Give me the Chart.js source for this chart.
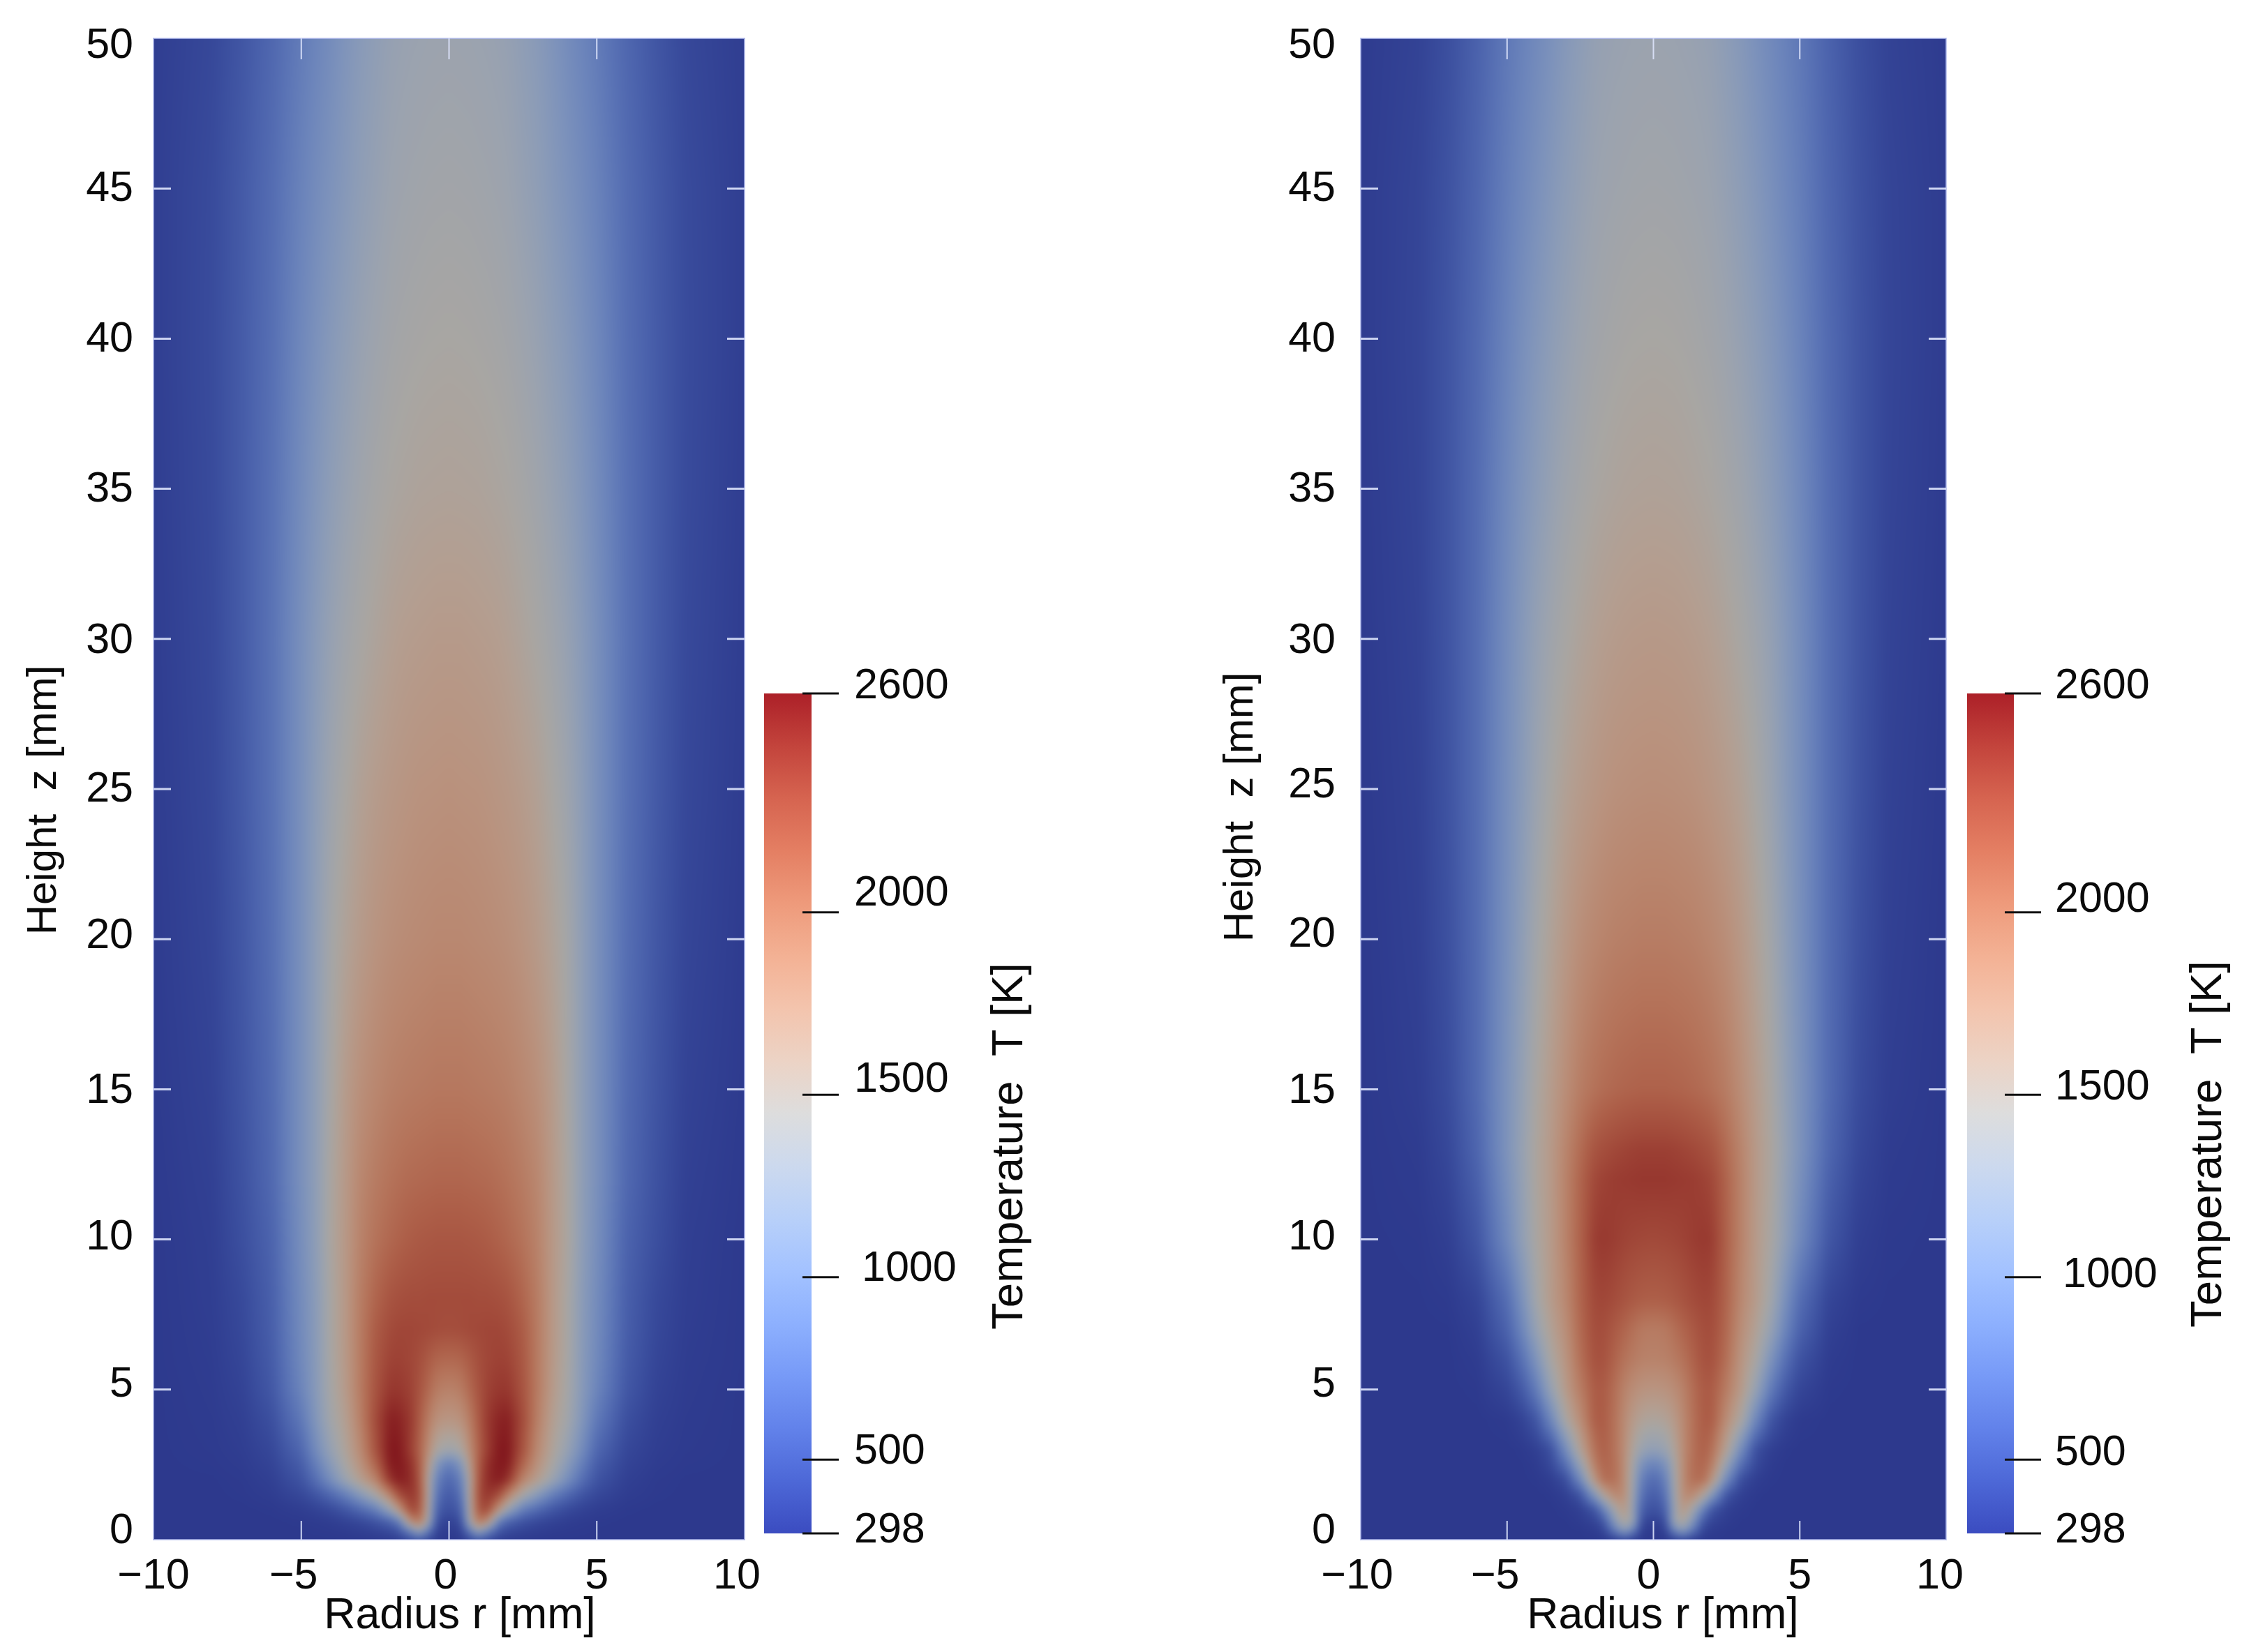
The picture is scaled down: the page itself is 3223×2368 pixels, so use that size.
<!DOCTYPE html>
<html>
<head>
<meta charset="utf-8">
<title>Flame temperature fields</title>
<script src="https://cdn.jsdelivr.net/npm/chart.js@4"></script>
<style>
    html, body { margin: 0; padding: 0; background: #ffffff; }
    canvas { position: absolute; top: 0; }
</style>
</head>
<body>
<canvas id="left-field" width="1110" height="2368" style="left:0px"></canvas>
<canvas id="left-bar" width="420" height="1400" style="left:1085px;top:900px"></canvas>
<canvas id="right-field" width="1130" height="2368" style="left:1700px"></canvas>
<canvas id="right-bar" width="414" height="1400" style="left:2809px;top:900px"></canvas>
<script>
// radius columns in mm, the field is read as mirror symmetric around r = 0
var radiusColumns = [0, 0.4, 0.7, 1, 1.3, 1.7, 2, 2.5, 3, 3.5, 4, 4.5, 5, 6, 7, 8, 10];

var leftHeights = [0, 0.3, 0.6, 1, 1.5, 2, 2.5, 3, 4, 5, 6, 7, 8, 10, 12, 15, 20, 25, 30, 35, 40, 45, 50];
var leftTemps = [
    [298, 310, 400, 520, 430, 340, 320, 310, 305, 300, 298, 298, 298, 298, 298, 298, 298],
    [320, 350, 800, 1300, 900, 500, 420, 370, 340, 320, 310, 305, 300, 298, 298, 298, 298],
    [350, 430, 1350, 2000, 1800, 800, 600, 470, 400, 360, 330, 315, 305, 298, 298, 298, 298],
    [450, 560, 1450, 2250, 2330, 1700, 1250, 820, 640, 500, 410, 360, 330, 305, 298, 298, 298],
    [520, 700, 1500, 2300, 2450, 2300, 1900, 1420, 1120, 830, 640, 490, 400, 325, 305, 298, 298],
    [620, 830, 1500, 2250, 2500, 2580, 2450, 1880, 1600, 1300, 980, 690, 480, 345, 310, 300, 298],
    [800, 1050, 1650, 2200, 2480, 2600, 2580, 2120, 1740, 1440, 1130, 820, 550, 370, 320, 305, 298],
    [1350, 1450, 1800, 2150, 2400, 2600, 2600, 2250, 1830, 1520, 1260, 950, 630, 395, 330, 310, 298],
    [1700, 1750, 1950, 2200, 2420, 2540, 2560, 2300, 1920, 1590, 1380, 1070, 770, 450, 345, 315, 298],
    [1900, 1950, 2100, 2250, 2370, 2430, 2430, 2250, 1960, 1650, 1420, 1120, 880, 510, 365, 320, 298],
    [2100, 2120, 2200, 2290, 2340, 2370, 2360, 2220, 1960, 1670, 1440, 1130, 920, 540, 385, 325, 300],
    [2290, 2300, 2320, 2330, 2340, 2340, 2310, 2190, 1960, 1680, 1450, 1140, 940, 560, 400, 330, 300],
    [2310, 2310, 2310, 2300, 2300, 2280, 2250, 2130, 1950, 1680, 1450, 1150, 950, 570, 410, 335, 300],
    [2230, 2230, 2220, 2210, 2190, 2150, 2110, 2030, 1900, 1680, 1480, 1180, 980, 600, 450, 340, 302],
    [2120, 2120, 2110, 2100, 2090, 2060, 2030, 1960, 1860, 1670, 1470, 1190, 1000, 640, 470, 350, 305],
    [1990, 1990, 1980, 1970, 1960, 1940, 1920, 1860, 1780, 1640, 1440, 1190, 1000, 660, 490, 365, 310],
    [1850, 1850, 1840, 1830, 1820, 1800, 1780, 1730, 1650, 1540, 1400, 1190, 1000, 690, 510, 385, 315],
    [1760, 1750, 1745, 1740, 1725, 1700, 1680, 1630, 1560, 1450, 1330, 1170, 1000, 710, 530, 400, 320],
    [1650, 1650, 1640, 1630, 1620, 1600, 1570, 1510, 1440, 1360, 1260, 1130, 990, 720, 540, 410, 325],
    [1530, 1525, 1520, 1515, 1500, 1480, 1460, 1410, 1350, 1270, 1180, 1070, 950, 710, 545, 420, 330],
    [1450, 1445, 1440, 1430, 1420, 1400, 1380, 1330, 1270, 1190, 1110, 1010, 910, 690, 540, 425, 335],
    [1380, 1375, 1370, 1360, 1350, 1330, 1310, 1250, 1190, 1110, 1030, 950, 860, 670, 530, 420, 335],
    [1320, 1315, 1310, 1300, 1290, 1270, 1250, 1190, 1130, 1050, 960, 880, 800, 630, 500, 400, 330]
];

var rightHeights = [0, 0.3, 0.6, 1, 1.5, 2, 2.5, 3, 4, 5, 6, 7, 8, 10, 12, 13, 15, 20, 25, 30, 35, 40, 45, 50];
var rightTemps = [
    [298, 300, 340, 420, 340, 305, 300, 298, 298, 298, 298, 298, 298, 298, 298, 298, 298],
    [310, 330, 850, 1150, 800, 370, 320, 300, 298, 298, 298, 298, 298, 298, 298, 298, 298],
    [340, 420, 1300, 1500, 1150, 500, 370, 320, 300, 298, 298, 298, 298, 298, 298, 298, 298],
    [450, 560, 1250, 1700, 1420, 850, 480, 340, 310, 298, 298, 298, 298, 298, 298, 298, 298],
    [540, 700, 1300, 1800, 1880, 1550, 1100, 480, 340, 305, 298, 298, 298, 298, 298, 298, 298],
    [650, 820, 1350, 1800, 2050, 2080, 1720, 920, 430, 330, 305, 298, 298, 298, 298, 298, 298],
    [850, 1000, 1400, 1800, 2050, 2130, 1950, 1250, 680, 400, 315, 300, 298, 298, 298, 298, 298],
    [1200, 1280, 1500, 1800, 2020, 2170, 2050, 1550, 950, 450, 340, 305, 298, 298, 298, 298, 298],
    [1500, 1540, 1650, 1830, 2020, 2190, 2190, 1800, 1449, 900, 500, 360, 310, 298, 298, 298, 298],
    [1720, 1740, 1800, 1900, 2050, 2200, 2200, 1950, 1650, 1250, 800, 520, 380, 305, 298, 298, 298],
    [1900, 1910, 1960, 2030, 2130, 2260, 2270, 2050, 1720, 1450, 1040, 700, 470, 320, 298, 298, 298],
    [1960, 1980, 2050, 2130, 2200, 2290, 2300, 2100, 1790, 1560, 1260, 880, 590, 345, 300, 298, 298],
    [2170, 2180, 2210, 2250, 2300, 2340, 2330, 2130, 1850, 1640, 1380, 1000, 680, 380, 310, 300, 298],
    [2320, 2330, 2340, 2360, 2390, 2420, 2400, 2150, 1900, 1650, 1460, 1190, 920, 500, 340, 305, 298],
    [2430, 2430, 2420, 2410, 2400, 2370, 2330, 2130, 1900, 1660, 1490, 1230, 1000, 580, 380, 315, 298],
    [2380, 2380, 2370, 2350, 2330, 2290, 2250, 2080, 1880, 1660, 1490, 1250, 1030, 620, 400, 320, 298],
    [2150, 2150, 2140, 2130, 2110, 2080, 2040, 1950, 1800, 1630, 1460, 1230, 1030, 660, 430, 335, 298],
    [1950, 1950, 1940, 1930, 1920, 1890, 1860, 1790, 1680, 1540, 1380, 1180, 1000, 670, 460, 350, 300],
    [1790, 1785, 1780, 1770, 1760, 1730, 1700, 1640, 1560, 1440, 1300, 1130, 980, 680, 480, 360, 305],
    [1670, 1665, 1660, 1650, 1635, 1610, 1580, 1520, 1440, 1350, 1240, 1100, 960, 680, 490, 370, 310],
    [1540, 1535, 1530, 1520, 1505, 1480, 1460, 1400, 1340, 1250, 1150, 1040, 920, 670, 495, 380, 315],
    [1450, 1445, 1440, 1430, 1415, 1390, 1370, 1320, 1250, 1170, 1080, 980, 870, 650, 490, 385, 320],
    [1370, 1365, 1360, 1350, 1340, 1320, 1300, 1240, 1170, 1090, 1000, 910, 820, 620, 475, 380, 320],
    [1310, 1305, 1300, 1290, 1280, 1260, 1240, 1170, 1100, 1010, 930, 850, 770, 590, 450, 365, 315]
];

var barTickValues = [298, 500, 1000, 1500, 2000, 2600];
var barTickLabels = ["298", "500", "1000", "1500", "2000", "2600"];

var mapTemps = [298, 442, 586, 730, 873, 1017, 1161, 1305, 1449, 1593, 1737, 1881, 2025, 2168, 2312, 2456, 2600];
var mapColors = [
    [59, 76, 192], [77, 104, 215], [98, 130, 234], [119, 154, 247], [141, 176, 254], [163, 194, 255],
    [184, 208, 249], [204, 217, 238], [221, 221, 221], [236, 211, 197], [243, 196, 173], [243, 177, 148],
    [238, 154, 123], [228, 127, 99], [214, 100, 80], [195, 68, 60], [172, 32, 40]
];

var FONT = "61px 'Liberation Sans', Arial, sans-serif";
var PLOT_SHADE = [0.76, 0.75, 0.735]; // the field is darker than its colour bar
var TICK_COLOR = "rgba(222, 228, 252, 0.9)";

function buildLookup() {
    var lut = [];
    var k = 0;
    for (var t = 298; t <= 2600; t++) {
        while (k < mapTemps.length - 2 && t > mapTemps[k + 1]) {
            k++;
        }
        var f = (t - mapTemps[k]) / (mapTemps[k + 1] - mapTemps[k]);
        lut.push([
            (mapColors[k][0] + f * (mapColors[k + 1][0] - mapColors[k][0])) * PLOT_SHADE[0],
            (mapColors[k][1] + f * (mapColors[k + 1][1] - mapColors[k][1])) * PLOT_SHADE[1],
            (mapColors[k][2] + f * (mapColors[k + 1][2] - mapColors[k][2])) * PLOT_SHADE[2]
        ]);
    }
    return lut;
}

var colorLookup = buildLookup();

function findCell(list, v) {
    var i = 0;
    while (i < list.length - 2 && v > list[i + 1]) {
        i++;
    }
    var f = (v - list[i]) / (list[i + 1] - list[i]);
    return {i: i, f: Math.max(0, Math.min(1, f))};
}

// paints the table into an image, every pixel is asked from the chart's scales
function fieldImage(chart, heights, temps, margin) {
    var area = chart.chartArea;
    var xScale = chart.scales.x;
    var yScale = chart.scales.y;
    var w = Math.round(area.right - area.left) + 2 * margin;
    var h = Math.round(area.bottom - area.top) + 2 * margin;
    var img = document.createElement("canvas");
    img.width = w;
    img.height = h;
    var imgCtx = img.getContext("2d");
    var pixels = imgCtx.createImageData(w, h);

    var columns = [];
    for (var px = 0; px < w; px++) {
        var r = Math.min(10, Math.abs(xScale.getValueForPixel(area.left - margin + px + 0.5)));
        columns.push(findCell(radiusColumns, r));
    }

    var o = 0;
    for (var py = 0; py < h; py++) {
        var z = Math.max(0, Math.min(50, yScale.getValueForPixel(area.top - margin + py + 0.5)));
        var row = findCell(heights, z);
        var low = temps[row.i];
        var high = temps[row.i + 1];
        for (var x = 0; x < w; x++) {
            var c = columns[x];
            var a = low[c.i] + c.f * (low[c.i + 1] - low[c.i]);
            var b = high[c.i] + c.f * (high[c.i + 1] - high[c.i]);
            var t = a + row.f * (b - a);
            var rgb = colorLookup[Math.max(0, Math.min(2302, Math.round(t - 298)))];
            pixels.data[o++] = rgb[0];
            pixels.data[o++] = rgb[1];
            pixels.data[o++] = rgb[2];
            pixels.data[o++] = 255;
        }
    }
    imgCtx.putImageData(pixels, 0, 0);
    return img;
}

function drawRotated(ctx, text, x, y) {
    ctx.save();
    ctx.translate(x, y);
    ctx.rotate(-Math.PI / 2);
    ctx.textAlign = "center";
    ctx.textBaseline = "middle";
    ctx.fillText(text, 0, 0);
    ctx.restore();
}

function fieldPlugin(heights, temps, look) {
    return {
        id: "tempField",
        beforeDatasetsDraw: function (chart) {
            var ctx = chart.ctx;
            var area = chart.chartArea;
            var margin = 16;
            var img = fieldImage(chart, heights, temps, margin);
            ctx.save();
            ctx.beginPath();
            ctx.rect(area.left, area.top, area.right - area.left, area.bottom - area.top);
            ctx.clip();
            ctx.filter = "blur(6px)";
            ctx.drawImage(img, area.left - margin, area.top - margin);
            ctx.restore();
        },
        afterDraw: function (chart) {
            var ctx = chart.ctx;
            var area = chart.chartArea;
            var xScale = chart.scales.x;
            var yScale = chart.scales.y;

            ctx.save();
            ctx.strokeStyle = "rgba(176, 186, 235, 0.75)";
            ctx.lineWidth = 2;
            ctx.strokeRect(area.left, area.top, area.right - area.left, area.bottom - area.top);

            // white ticks sit inside the frame
            ctx.strokeStyle = TICK_COLOR;
            ctx.lineWidth = 2;
            xScale.ticks.forEach(function (tick) {
                if (tick.value === -10 || tick.value === 10) {
                    return;
                }
                var px = xScale.getPixelForValue(tick.value);
                ctx.beginPath();
                ctx.moveTo(px, area.top);
                ctx.lineTo(px, area.top + 30);
                ctx.moveTo(px, area.bottom);
                ctx.lineTo(px, area.bottom - 27);
                ctx.stroke();
            });
            ctx.lineWidth = 3;
            yScale.ticks.forEach(function (tick) {
                if (tick.value === 0 || tick.value === 50) {
                    return;
                }
                var py = yScale.getPixelForValue(tick.value);
                ctx.beginPath();
                ctx.moveTo(area.left, py);
                ctx.lineTo(area.left + 25, py);
                ctx.moveTo(area.right, py);
                ctx.lineTo(area.right - 25, py);
                ctx.stroke();
            });

            ctx.fillStyle = "#0a0a0a";
            ctx.font = FONT;
            ctx.textBaseline = "alphabetic";
            ctx.textAlign = "center";
            xScale.ticks.forEach(function (tick, i) {
                var text = tick.value < 0 ? "\u2212" + Math.abs(tick.value) : String(tick.value);
                ctx.fillText(text, xScale.getPixelForValue(tick.value) + look.xLabelShift[i], 2277);
            });
            ctx.textBaseline = "middle";
            ctx.textAlign = "right";
            yScale.ticks.forEach(function (tick, i) {
                ctx.fillText(String(tick.value), look.yLabelRight, yScale.getPixelForValue(tick.value) + look.yLabelShift[i] + 4);
            });

            ctx.textAlign = "center";
            ctx.textBaseline = "alphabetic";
            ctx.font = "62.6px 'Liberation Sans', Arial, sans-serif";
            ctx.fillText("Radius r [mm]", look.xTitleX, 2334);
            ctx.font = "60px 'Liberation Sans', Arial, sans-serif";
            drawRotated(ctx, "Height  z [mm]", look.yTitleX, look.yTitleY);
            ctx.restore();
        }
    };
}

function makeField(canvasId, heights, temps, look) {
    var points = [];
    for (var i = 0; i < heights.length; i++) {
        for (var j = 0; j < radiusColumns.length; j++) {
            points.push({x: radiusColumns[j], y: heights[i], v: temps[i][j]});
            points.push({x: -radiusColumns[j], y: heights[i], v: temps[i][j]});
        }
    }

    return new Chart(document.getElementById(canvasId).getContext("2d"), {
        type: "scatter",
        data: {datasets: [{label: "Temperature T [K]", data: points, pointRadius: 0}]},
        plugins: [fieldPlugin(heights, temps, look)],
        options: {
            responsive: false,
            animation: false,
            devicePixelRatio: 1,
            layout: {padding: look.padding},
            events: [],
            plugins: {legend: {display: false}, tooltip: {enabled: false}},
            scales: {
                x: {type: "linear", min: -10, max: 10, display: false, ticks: {stepSize: 5}},
                y: {type: "linear", min: 0, max: 50, display: false, ticks: {stepSize: 5}}
            }
        }
    });
}

function barPlugin(look) {
    return {
        id: "barTicks",
        afterDraw: function (chart) {
            var ctx = chart.ctx;
            var yScale = chart.scales.y;
            ctx.save();
            ctx.strokeStyle = "#111111";
            ctx.lineWidth = 3;
            ctx.fillStyle = "#0a0a0a";
            ctx.font = FONT;
            ctx.textAlign = "left";
            ctx.textBaseline = "middle";
            barTickValues.forEach(function (value, i) {
                var py = yScale.getPixelForValue(value);
                ctx.beginPath();
                ctx.moveTo(look.tickFrom, py);
                ctx.lineTo(look.tickFrom + 52, py);
                ctx.stroke();
                ctx.fillText(barTickLabels[i], look.labelX[i], py + look.labelShift[i] + 3);
            });
            ctx.font = "63.5px 'Liberation Sans', Arial, sans-serif";
            drawRotated(ctx, "Temperature  T [K]", look.titleX, look.titleY);
            ctx.restore();
        }
    };
}

function barGradient(context) {
    var chart = context.chart;
    if (!chart.chartArea) {
        return "#dddddd";
    }
    var yScale = chart.scales.y;
    var gradient = chart.ctx.createLinearGradient(0, yScale.getPixelForValue(298), 0, yScale.getPixelForValue(2600));
    for (var i = 0; i < mapTemps.length; i++) {
        var c = mapColors[i];
        gradient.addColorStop((mapTemps[i] - 298) / 2302, "rgb(" + c[0] + "," + c[1] + "," + c[2] + ")");
    }
    return gradient;
}

function makeBar(canvasId, look) {
    return new Chart(document.getElementById(canvasId).getContext("2d"), {
        type: "bar",
        data: {
            labels: ["T"],
            datasets: [{
                data: [[298, 2600]],
                backgroundColor: barGradient,
                borderWidth: 0,
                barPercentage: 1,
                categoryPercentage: 1
            }]
        },
        plugins: [barPlugin(look)],
        options: {
            responsive: false,
            animation: false,
            devicePixelRatio: 1,
            layout: {padding: look.padding},
            events: [],
            plugins: {legend: {display: false}, tooltip: {enabled: false}},
            scales: {
                x: {display: false},
                y: {type: "linear", min: 298, max: 2600, display: false}
            }
        }
    });
}

makeField("left-field", leftHeights, leftTemps, {
    padding: {left: 220, right: 43, top: 55, bottom: 161},
    xLabelShift: [0, -11, -5, 0, -11],
    yLabelShift: [-16, -11, -6, -1, -8, -3, -1, -2, -2, -3, 7],
    yLabelRight: 191,
    xTitleX: 659,
    yTitleX: 63,
    yTitleY: 1147
});

makeField("right-field", rightHeights, rightTemps, {
    padding: {left: 250, right: 41, top: 55, bottom: 161},
    xLabelShift: [-5, -17, -7, 0, -9],
    yLabelShift: [-16, -11, -6, -1, -10, -9, -1, -2, -2, -3, 7],
    yLabelRight: 214,
    xTitleX: 683,
    yTitleX: 78,
    yTitleY: 1157
});

makeBar("left-bar", {
    padding: {left: 10, right: 342, top: 94, bottom: 102},
    tickFrom: 65,
    labelX: [139, 139, 150, 139, 139, 139],
    labelShift: [-7, -14, -15, -24, -30, -13],
    titleX: 362,
    titleY: 743
});

makeBar("right-bar", {
    padding: {left: 10, right: 337, top: 94, bottom: 102},
    tickFrom: 64,
    labelX: [136, 136, 147, 136, 136, 136],
    labelShift: [-7, -12, -6, -13, -21, -13],
    titleX: 356,
    titleY: 740
});
</script>
</body>
</html>
